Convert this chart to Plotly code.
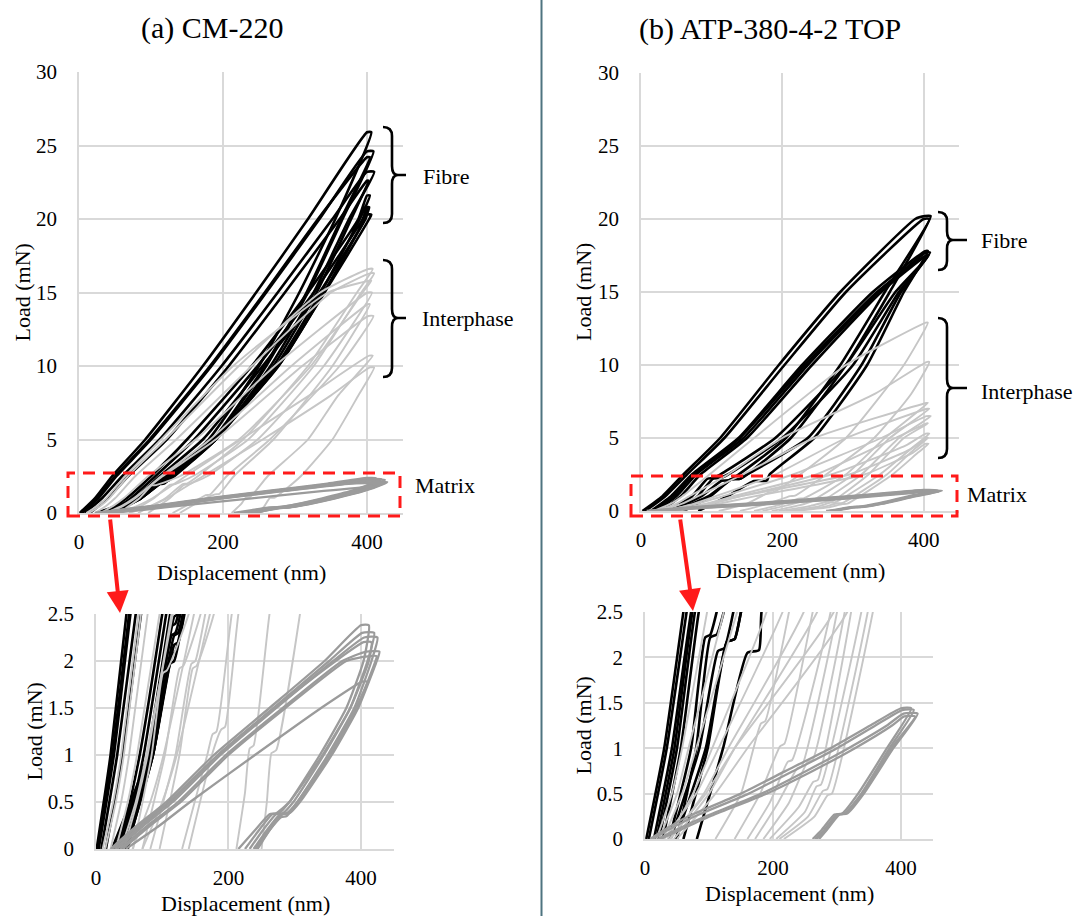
import plotly.graph_objects as go

W, H = 1073, 916

# ---------------- data: load-displacement loops (displacement nm, load mN) ----------------
# (a) CM-220
cm_fibre_disp = [
    [1, 22, 46, 92, 172, 246, 318, 400, 406, 356, 306, 250, 180, 122, 116, 78, 24],
    [4, 27, 52, 100, 184, 260, 334, 400, 409, 366, 318, 260, 188, 124, 118, 82, 30],
    [3, 25, 50, 98, 182, 258, 332, 400, 404, 364, 316, 258, 186, 120, 114, 80, 28],
    [8, 32, 60, 112, 198, 276, 352, 400, 410, 375, 326, 266, 190, 120, 114, 82, 34],
    [15, 40, 68, 122, 208, 286, 362, 400, 402, 378, 330, 270, 190, 124, 118, 84, 38],
    [36, 66, 100, 150, 240, 318, 388, 400, 404, 390, 336, 274, 190, 124, 118, 86, 42],
    [42, 72, 106, 160, 248, 326, 394, 400, 403, 397, 340, 277, 188, 120, 114, 86, 46],
    [48, 78, 112, 172, 255, 334, 398, 400, 406, 403, 341, 277, 186, 118, 112, 86, 46],
]
cm_fibre_load = [
    [0, 1, 2.5, 5, 10, 15, 20, 25.9, 25.9, 20, 15, 10, 5, 2.6, 2.57, 1, 0],
    [0, 1, 2.5, 5, 10, 15, 20, 24.6, 24.6, 20, 15, 10, 5, 2.5, 2.47, 1, 0],
    [0, 1, 2.5, 5, 10, 15, 20, 24.2, 24.2, 20, 15, 10, 5, 2.4, 2.37, 1, 0],
    [0, 1, 2.5, 5, 10, 15, 20, 23.2, 23.2, 20, 15, 10, 5, 2.3, 2.27, 1, 0],
    [0, 1, 2.5, 5, 10, 15, 20, 22.6, 22.6, 20, 15, 10, 5, 2.3, 2.27, 1, 0],
    [0, 1, 2.5, 5, 10, 15, 20, 21.6, 21.6, 20, 15, 10, 5, 2.2, 2.17, 1, 0],
    [0, 1, 2.5, 5, 10, 15, 20, 20.8, 20.8, 20, 15, 10, 5, 2.1, 2.07, 1, 0],
    [0, 1, 2.5, 5, 10, 15, 20, 20.3, 20.3, 20, 15, 10, 5, 2.0, 1.97, 1, 0],
]
cm_inter_disp = [
    [14, 30, 42, 68, 120, 222, 335, 402, 408, 386, 318, 228, 165, 150, 144, 120, 82],
    [22, 38, 50, 78, 135, 240, 350, 404, 410, 392, 326, 235, 158, 132, 126, 104, 70],
    [10, 26, 38, 64, 114, 214, 346, 403, 406, 394, 322, 222, 140, 107, 101, 84, 56],
    [30, 48, 62, 96, 162, 272, 401, 407, 340, 248, 178, 152, 146, 126, 96],
    [42, 62, 78, 114, 182, 295, 401, 404, 352, 270, 215, 195, 189, 175, 140],
    [38, 60, 76, 116, 190, 310, 402, 409, 362, 265, 205, 182, 176, 168, 130],
    [55, 82, 102, 148, 225, 320, 403, 408, 360, 318, 262, 238, 232, 225, 212],
    [70, 100, 122, 172, 255, 350, 404, 410, 388, 352, 308, 272, 265, 258, 250],
]
cm_inter_load = [
    [0, 0.5, 1, 2.5, 5, 10, 15, 16.6, 16.6, 15, 10, 5, 2.5, 2.0, 1.97, 1, 0],
    [0, 0.5, 1, 2.5, 5, 10, 15, 16.3, 16.3, 15, 10, 5, 2.5, 1.95, 1.92, 1, 0],
    [0, 0.5, 1, 2.5, 5, 10, 15, 15.8, 15.8, 15, 10, 5, 2.5, 1.9, 1.87, 1, 0],
    [0, 0.5, 1, 2.5, 5, 10, 15, 15, 10, 5, 2.5, 1.95, 1.92, 1, 0],
    [0, 0.5, 1, 2.5, 5, 10, 14.2, 14.2, 10, 5, 2.5, 1.3, 1.27, 1, 0],
    [0, 0.5, 1, 2.5, 5, 10, 13.4, 13.4, 10, 5, 2.5, 1.25, 1.22, 1, 0],
    [0, 0.5, 1, 2.5, 5, 8, 10.7, 10.7, 8, 5, 2.5, 1.1, 1.07, 0.6, 0],
    [0, 0.5, 1, 2.5, 5, 8, 9.9, 9.9, 8, 5, 2.5, 1.05, 1.02, 0.5, 0],
]
cm_matrix_disp = [
    [22, 62, 106, 178, 262, 345, 400, 412, 404, 378, 338, 292, 276, 266, 246, 225],
    [28, 68, 112, 184, 268, 352, 402, 420, 410, 384, 344, 298, 282, 272, 252, 232],
    [32, 72, 116, 188, 272, 358, 405, 425, 416, 390, 350, 304, 288, 278, 258, 238],
    [24, 64, 110, 184, 270, 362, 404, 416, 412, 384, 342, 292, 272, 262, 240, 215],
    [36, 78, 124, 196, 282, 372, 408, 428, 424, 396, 356, 308, 292, 282, 262, 244],
    [40, 82, 128, 200, 286, 378, 410, 424, 422, 394, 354, 306, 290, 280, 260, 240],
    [45, 96, 142, 240, 340, 402, 410, 392, 352, 304, 288, 280, 262, 242],
]
cm_matrix_load = [
    [0, 0.25, 0.5, 1, 1.5, 2, 2.38, 2.38, 2.0, 1.5, 1.0, 0.5, 0.38, 0.37, 0.2, 0],
    [0, 0.25, 0.5, 1, 1.5, 2, 2.30, 2.30, 2.0, 1.5, 1.0, 0.5, 0.38, 0.37, 0.2, 0],
    [0, 0.25, 0.5, 1, 1.5, 2, 2.25, 2.25, 2.0, 1.5, 1.0, 0.5, 0.38, 0.37, 0.2, 0],
    [0, 0.25, 0.5, 1, 1.5, 2, 2.20, 2.20, 2.0, 1.5, 1.0, 0.5, 0.38, 0.37, 0.2, 0],
    [0, 0.25, 0.5, 1, 1.5, 2, 2.10, 2.10, 2.0, 1.5, 1.0, 0.5, 0.38, 0.37, 0.2, 0],
    [0, 0.25, 0.5, 1, 1.5, 2, 2.05, 2.05, 2.0, 1.5, 1.0, 0.5, 0.38, 0.37, 0.2, 0],
    [0, 0.25, 0.5, 1, 1.5, 1.78, 1.78, 1.5, 1.0, 0.5, 0.35, 0.34, 0.2, 0],
]

# (b) ATP-380-4-2 TOP
atp_fibre_disp = [
    [2, 30, 60, 112, 195, 282, 388, 402, 410, 352, 290, 212, 150, 140, 128, 95, 48],
    [6, 34, 65, 118, 203, 290, 400, 408, 345, 282, 205, 138, 124, 114, 85, 40],
    [14, 42, 72, 138, 228, 328, 402, 406, 372, 320, 245, 182, 178, 160, 122, 81],
    [22, 50, 78, 145, 236, 336, 403, 409, 368, 312, 236, 150, 140, 128, 98, 60],
    [28, 56, 84, 150, 242, 340, 404, 407, 365, 300, 200, 123, 112, 102, 80, 50],
    [18, 46, 74, 140, 232, 334, 400, 405, 360, 290, 190, 112, 102, 94, 72, 38],
]
atp_fibre_load = [
    [0, 1, 2.5, 5, 10, 15, 20, 20.2, 20.2, 15, 10, 5, 2.5, 2.2, 2.17, 1, 0],
    [0, 1, 2.5, 5, 10, 15, 20, 20, 15, 10, 5, 2.5, 2.1, 2.07, 1, 0],
    [0, 1, 2.5, 5, 10, 15, 17.8, 17.8, 15, 10, 5, 2.5, 2.08, 2.05, 1, 0],
    [0, 1, 2.5, 5, 10, 15, 17.7, 17.7, 15, 10, 5, 2.5, 2.2, 2.17, 1, 0],
    [0, 1, 2.5, 5, 10, 15, 17.5, 17.5, 15, 10, 5, 2.5, 2.25, 2.22, 1, 0],
    [0, 1, 2.5, 5, 10, 15, 17.4, 17.4, 15, 10, 5, 2.5, 2.25, 2.22, 1, 0],
]
atp_inter_disp = [
    [18, 42, 58, 97, 160, 290, 403, 406, 372, 290, 225, 188, 181, 150, 110],
    [22, 50, 68, 123, 200, 330, 404, 408, 382, 330, 262, 218, 211, 180, 140],
    [28, 58, 80, 144, 245, 404, 406, 345, 290, 230, 223, 195, 160],
    [35, 75, 105, 190, 290, 405, 408, 352, 300, 245, 238, 208, 172],
    [30, 80, 115, 215, 340, 404, 410, 365, 312, 262, 254, 225, 185],
    [40, 92, 130, 248, 360, 404, 406, 372, 322, 270, 263, 240, 195],
    [45, 100, 140, 269, 375, 403, 408, 388, 338, 275, 268, 250, 205],
    [38, 95, 140, 295, 380, 404, 406, 386, 348, 285, 278, 255, 210],
    [50, 110, 160, 316, 385, 402, 407, 392, 356, 292, 285, 265, 217],
]
atp_inter_load = [
    [0, 0.5, 1, 2.5, 5, 10, 12.9, 12.9, 10, 5, 2.5, 1.3, 1.27, 0.5, 0],
    [0, 0.5, 1, 2.5, 5, 8, 10.2, 10.2, 8, 5, 2.5, 1.05, 1.02, 0.5, 0],
    [0, 0.5, 1, 2.5, 5, 7.4, 7.4, 5, 2.5, 0.87, 0.85, 0.4, 0],
    [0, 0.5, 1, 2.5, 5, 7.0, 7.0, 5, 2.5, 0.8, 0.78, 0.4, 0],
    [0, 0.5, 1, 2.5, 5, 6.5, 6.5, 5, 2.5, 0.87, 0.85, 0.4, 0],
    [0, 0.5, 1, 2.5, 5, 6.0, 6.0, 5, 2.5, 0.65, 0.63, 0.35, 0],
    [0, 0.5, 1, 2.5, 4.5, 5.3, 5.3, 4.5, 2.5, 0.6, 0.58, 0.3, 0],
    [0, 0.5, 1, 2.5, 4.2, 5.0, 5.0, 4.2, 2.5, 0.55, 0.53, 0.25, 0],
    [0, 0.5, 1, 2.5, 4, 4.6, 4.6, 4, 2.5, 0.5, 0.48, 0.25, 0],
]
atp_matrix_disp = [
    [8, 30, 68, 150, 220, 290, 352, 400, 416, 378, 333, 308, 296, 276, 262],
    [12, 36, 78, 162, 232, 300, 360, 402, 420, 382, 338, 312, 300, 280, 266],
    [20, 48, 95, 182, 252, 318, 378, 404, 426, 388, 342, 316, 304, 284, 272],
    [24, 55, 102, 190, 262, 328, 386, 405, 422, 385, 340, 312, 300, 282, 268],
]
atp_matrix_load = [
    [0, 0.1, 0.25, 0.5, 0.75, 1, 1.25, 1.44, 1.44, 1, 0.5, 0.28, 0.27, 0.1, 0],
    [0, 0.1, 0.25, 0.5, 0.75, 1, 1.25, 1.42, 1.42, 1, 0.5, 0.28, 0.27, 0.1, 0],
    [0, 0.1, 0.25, 0.5, 0.75, 1, 1.25, 1.38, 1.38, 1, 0.5, 0.28, 0.27, 0.1, 0],
    [0, 0.1, 0.25, 0.5, 0.75, 1, 1.25, 1.35, 1.35, 1, 0.5, 0.28, 0.27, 0.1, 0],
]

panel_titles = ["(a) CM-220", "(b) ATP-380-4-2 TOP"]
x_ticks = [0, 200, 400]
y_ticks_full = [0, 5, 10, 15, 20, 25, 30]
y_ticks_zoom = [0, 0.5, 1, 1.5, 2, 2.5]
y_tick_text_zoom = ["0", "0.5", "1", "1.5", "2", "2.5"]

# ---------------- styling ----------------
SERIF = "Liberation Serif, Times New Roman, serif"
GRID = "#d9d9d9"
FIBRE_STYLE = dict(color="#000000", width=2.6)
INTER_STYLE = dict(color="#c6c6c6", width=1.9)
MATRIX_STYLE = dict(color="#9b9b9b", width=2.3)
RED = "#ff1a1a"


def fx(p):
    return p / W


def fy(p):
    return 1 - p / H


fig = go.Figure()

groups = [
    # (axis suffixes for the full and zoomed views, curve sets)
    (("", "3"), [(cm_fibre_disp, cm_fibre_load, FIBRE_STYLE),
                 (cm_inter_disp, cm_inter_load, INTER_STYLE),
                 (cm_matrix_disp, cm_matrix_load, MATRIX_STYLE)]),
    (("2", "4"), [(atp_fibre_disp, atp_fibre_load, FIBRE_STYLE),
                  (atp_inter_disp, atp_inter_load, INTER_STYLE),
                  (atp_matrix_disp, atp_matrix_load, MATRIX_STYLE)]),
]
for suffixes, sets in groups:
    for suf in suffixes:
        for xs, ys, style in sets:
            for dx, ly in zip(xs, ys):
                fig.add_trace(go.Scatter(
                    x=dx, y=ly, mode="lines",
                    line=dict(color=style["color"], width=style["width"],
                              shape="spline", smoothing=0.5),
                    xaxis="x" + suf, yaxis="y" + suf,
                    hoverinfo="skip", showlegend=False))

# axis boxes in pixels: left, right, top, bottom
boxes = {
    "": (79, 403, 72, 513),
    "2": (641, 959, 73, 511),
    "3": (96, 394, 614, 849),
    "4": (645, 933, 612, 839),
}

tickfont = dict(family=SERIF, size=21, color="#000")
layout = dict(
    width=W, height=H, margin=dict(l=0, r=0, t=0, b=0),
    paper_bgcolor="white", plot_bgcolor="white", showlegend=False,
)
for suf, (l, r, t, b) in boxes.items():
    zoom = suf in ("3", "4")
    layout["xaxis" + suf] = dict(
        domain=[fx(l), fx(r)], range=[0, 450], anchor="y" + suf,
        tickvals=x_ticks, showgrid=True, gridcolor=GRID, gridwidth=1.5,
        zeroline=False, showline=True, linecolor=GRID, linewidth=1.5,
        ticks="", tickfont=tickfont, ticklabelstandoff=9, automargin=False,
    )
    layout["yaxis" + suf] = dict(
        domain=[fy(b), fy(t)], range=[0, 2.5] if zoom else [0, 30],
        anchor="x" + suf,
        tickvals=y_ticks_zoom if zoom else y_ticks_full,
        ticktext=y_tick_text_zoom if zoom else None,
        showgrid=True, gridcolor=GRID, gridwidth=1.5,
        zeroline=False, showline=True, linecolor=GRID, linewidth=1.5,
        ticks="", tickfont=tickfont, ticklabelstandoff=16, automargin=False,
    )
fig.update_layout(**layout)

annotations = []


def text(x, y, s, size=22, xanchor="center", angle=0):
    annotations.append(dict(
        x=fx(x), y=fy(y), xref="paper", yref="paper", text=s, showarrow=False,
        xanchor=xanchor, yanchor="middle", textangle=angle,
        font=dict(family=SERIF, size=size, color="#000")))


# panel titles
text(212, 28, panel_titles[0], size=30)
text(770, 29, panel_titles[1], size=30)

# axis titles
for suf, (l, r, t, b) in boxes.items():
    zoom = suf in ("3", "4")
    text((l + r) / 2, b + (54 if zoom else 59), "Displacement (nm)", size=22)
    lx = {"": 22, "2": 584, "3": 34, "4": 583}[suf]
    text(lx, (t + b) / 2, "Load (mN)", size=22, angle=-90)

# phase labels
text(421, 176, "Fibre", size=22, xanchor="left")
text(420, 319, "Interphase", size=22, xanchor="left")
text(413, 485, "Matrix", size=22, xanchor="left")
text(979, 241, "Fibre", size=22, xanchor="left")
text(979, 391, "Interphase", size=22, xanchor="left")
text(965, 494, "Matrix", size=22, xanchor="left")

# red arrows from the highlighted band to the zoomed view
for (tx, ty), (hx, hy) in [((110, 518), (120, 613)), ((680, 518), (693, 611))]:
    annotations.append(dict(
        x=fx(hx), y=fy(hy), xref="paper", yref="paper",
        ax=tx - hx, ay=ty - hy, axref="pixel", ayref="pixel",
        showarrow=True, arrowhead=2, arrowsize=1.1, arrowwidth=4,
        arrowcolor=RED, text=""))

fig.update_layout(annotations=annotations)

shapes = []
# highlighted low-load band
for (x0, x1, y0, y1) in [(68, 400, 473, 516), (631, 957, 476, 516)]:
    shapes.append(dict(type="rect", xref="paper", yref="paper",
                       x0=fx(x0), x1=fx(x1), y0=fy(y1), y1=fy(y0),
                       line=dict(color=RED, width=3, dash="12px,8px")))

# divider between the two columns
shapes.append(dict(type="line", xref="paper", yref="paper",
                   x0=fx(541.5), x1=fx(541.5), y0=0, y1=1,
                   line=dict(color="#4e7480", width=2)))


def brace(xl, xv, xt, xe, ytop, ymid, ybot, r=9):
    p = lambda x, y: f"{fx(x):.5f},{fy(y):.5f}"
    path = (f"M {p(xl, ytop)} Q {p(xv, ytop)} {p(xv, ytop + r)} "
            f"L {p(xv, ymid - r)} Q {p(xv, ymid)} {p(xt, ymid)} "
            f"Q {p(xv, ymid)} {p(xv, ymid + r)} "
            f"L {p(xv, ybot - r)} Q {p(xv, ybot)} {p(xl, ybot)} "
            f"M {p(xt, ymid)} L {p(xe, ymid)}")
    return dict(type="path", xref="paper", yref="paper", path=path,
                line=dict(color="#000", width=2.6))


shapes.append(brace(383, 392, 398, 406, 127, 175, 223))
shapes.append(brace(383, 392, 398, 406, 260, 318, 377))
shapes.append(brace(938, 947, 953, 967, 212, 240, 270))
shapes.append(brace(938, 947, 953, 967, 318, 388, 458))

fig.update_layout(shapes=shapes)

fig.write_html("out.html")
